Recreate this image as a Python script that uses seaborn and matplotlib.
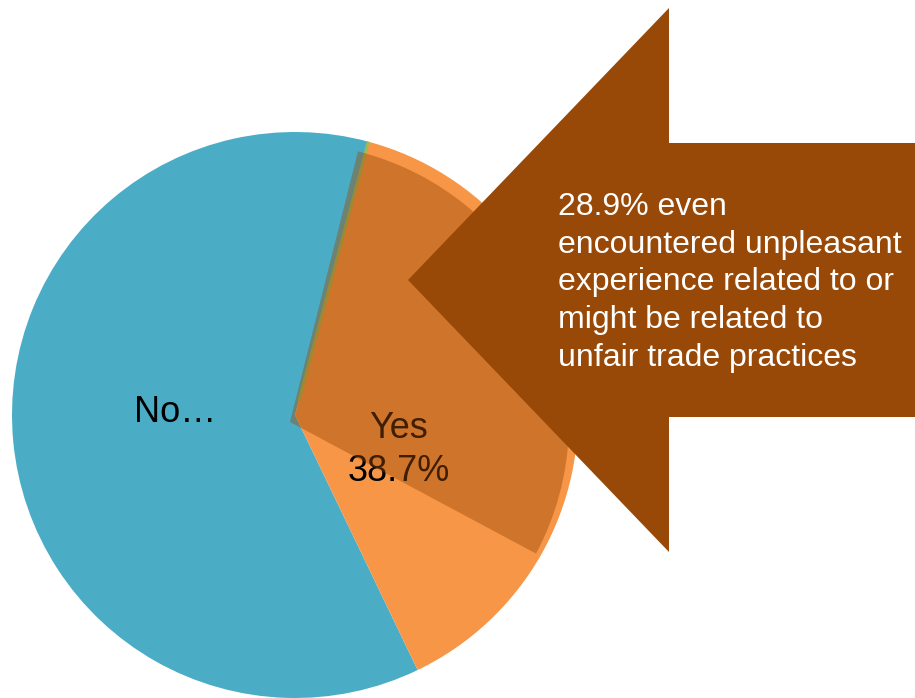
import matplotlib
matplotlib.use("Agg")
import matplotlib.pyplot as plt
from matplotlib.patches import Polygon
import numpy as np
import seaborn as sns

# Survey answers
categories = ["No…", "Yes"]
shares = [61.3, 38.7]
# Share of all respondents who met unfair trade practices
highlight_share = 28.9
highlight_text = ("28.9% even\nencountered unpleasant\nexperience related to or\n"
                  "might be related to\nunfair trade practices")

sns.set_theme(style="white")
plt.rcParams["font.family"] = ["Liberation Sans", "DejaVu Sans"]

blue = "#4BACC6"
orange = "#F79646"
brown = "#984807"
green = "#9BBB59"

W, H = 915, 698
fig = plt.figure(figsize=(W / 100, H / 100), dpi=100)
ax = fig.add_axes([0, 0, 1, 1])

center = (295, 283)
radius = 283
start = 75.0

wedges, _ = ax.pie(shares, colors=[blue, orange], startangle=start,
                   counterclock=True, center=center, radius=radius,
                   wedgeprops=dict(linewidth=0))

# thin divider along the No / Yes boundary
ang = np.deg2rad(start)
ax.plot([center[0] + 0.05 * radius * np.cos(ang), center[0] + radius * np.cos(ang)],
        [center[1] + 0.05 * radius * np.sin(ang), center[1] + radius * np.sin(ang)],
        color=green, lw=2, solid_capstyle="butt", zorder=2)

# category labels
ax.text(175, H - 413, categories[0], ha="center", va="center",
        fontsize=26, color="black", zorder=3)
ax.text(399, H - 450, f"{categories[1]}\n{shares[1]}%", ha="center", va="center",
        fontsize=26, color="black", linespacing=1.33, zorder=3)

# translucent wedge for the highlighted share
ax.pie([highlight_share, 100 - highlight_share], colors=[brown, "none"],
       startangle=start + 0.9, counterclock=False, center=(290, 276), radius=279,
       wedgeprops=dict(linewidth=0, alpha=0.42, zorder=4))
ax.patches[-1].set_visible(False)

# left-pointing callout arrow
tip_x, tip_y = 408, H - 280
head_x = 669
head_half = 272
shaft_half = 137
arrow = Polygon([(tip_x, tip_y), (head_x, tip_y + head_half),
                 (head_x, tip_y + shaft_half), (W + 5, tip_y + shaft_half),
                 (W + 5, tip_y - shaft_half), (head_x, tip_y - shaft_half),
                 (head_x, tip_y - head_half)],
                closed=True, facecolor=brown, edgecolor="none", zorder=5)
ax.add_patch(arrow)
ax.text(558, H - 192, highlight_text, ha="left", va="top", fontsize=23,
        color="white", linespacing=1.335, zorder=6)

ax.set_xlim(0, W)
ax.set_ylim(0, H)
ax.set_aspect("equal")
ax.axis("off")

fig.savefig("out.png", dpi=100, facecolor="white")
